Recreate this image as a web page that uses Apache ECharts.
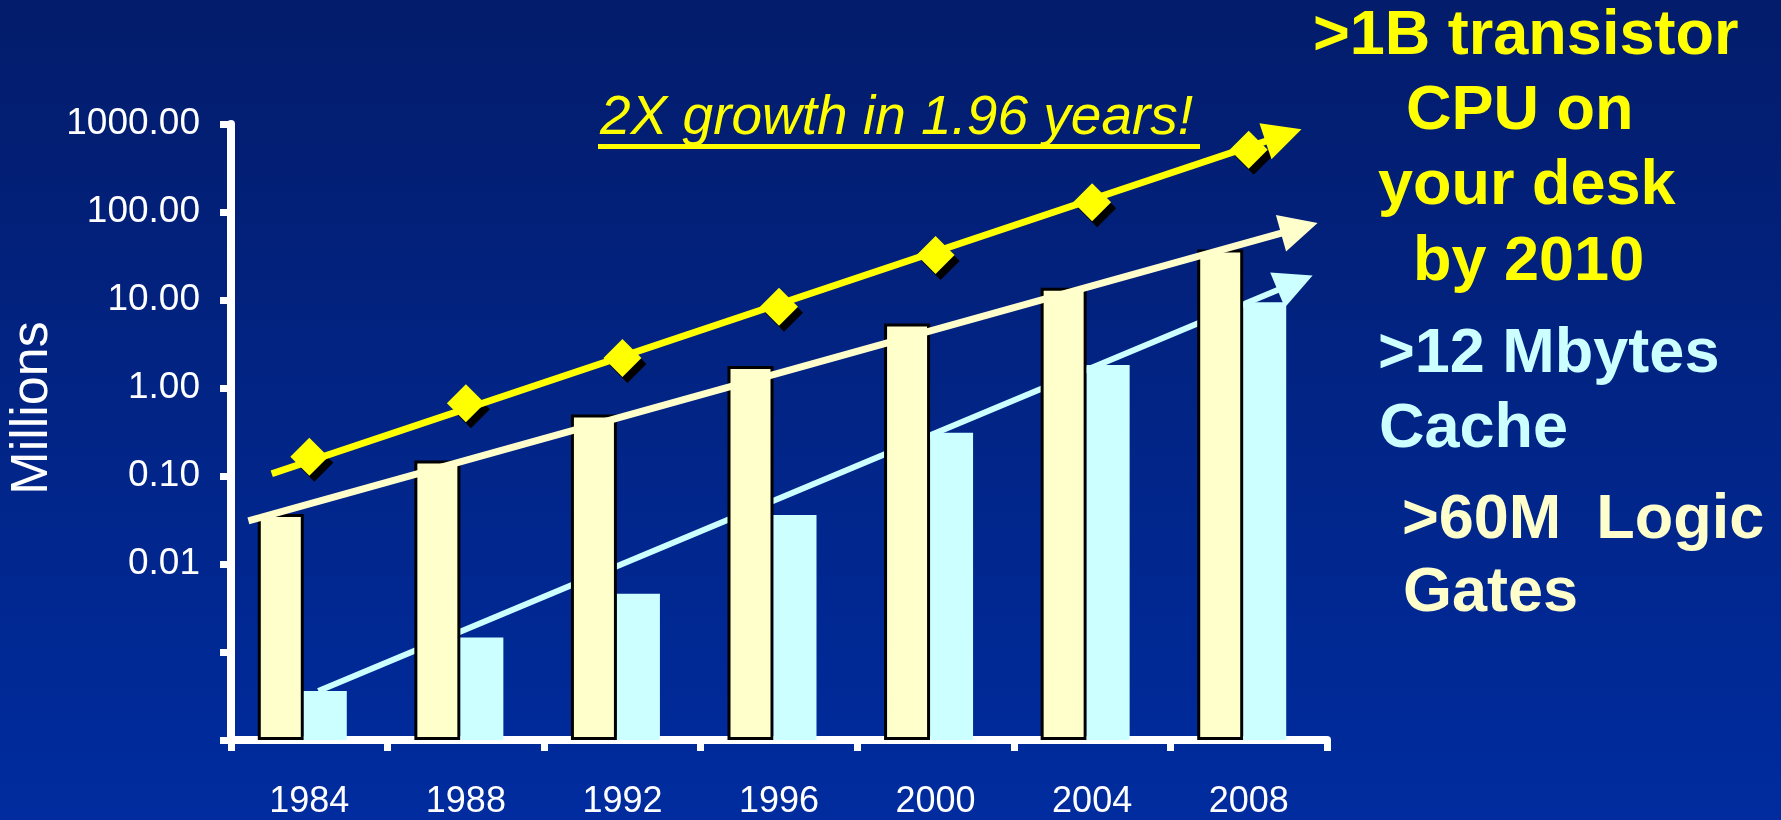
<!DOCTYPE html>
<html>
<head>
<meta charset="utf-8">
<script src="https://cdn.jsdelivr.net/npm/echarts@6/dist/echarts.min.js"></script>
<style>
  html, body { margin: 0; padding: 0; background: #02228a; }
  #chart { width: 1781px; height: 820px; }
</style>
</head>
<body>
<div id="chart"></div>
<script>
// Years on the category axis
const years = ['1984', '1988', '1992', '1996', '2000', '2004', '2008'];

// Millions, per year
const logicGates  = [0.037, 0.15, 0.50, 1.78, 5.4, 13.8, 37.6];          // cream bars
const cacheBytes  = [0.00036, 0.00146, 0.0046, 0.036, 0.31, 1.83, 9.45]; // cyan bars
const transistors = [0.165, 0.67, 2.19, 8.4, 32.4, 129, 510];            // yellow diamonds

// Exponential trend arrows: [category position, millions] for start and end
const transistorTrend = [[-0.24, 0.106], [6.222, 745]];
const gateTrend       = [[-0.389, 0.031], [6.323, 65.6]];
const cacheTrend      = [[0.058, 0.000361], [6.296, 15.7]];

// Y axis range (decades)
const yMin = 0.0001;
const yMax = 1000;

// Annotation text
const headline = '2X growth in 1.96 years!';
const cpuLines = ['>1B transistor', 'CPU on', 'your desk', 'by 2010'];
const cacheLines = ['>12 Mbytes', 'Cache'];
const gateLines = ['>60M  Logic', 'Gates'];
const unitLabel = 'Millions';

const FONT = '"Liberation Sans", Arial, Helvetica, sans-serif';
const YELLOW = '#FFFF00';
const CREAM = '#FFFFCC';
const CYAN = '#CCFFFF';

const chart = echarts.init(document.getElementById('chart'), null, { renderer: 'canvas' });

function boldText(text, x, y, color) {
  return {
    type: 'text', x: x, y: y, z: 100,
    style: {
      text: text, fill: color, font: 'bold 63px ' + FONT,
      align: 'left', verticalAlign: 'middle'
    }
  };
}

const graphics = [];
// Rotated unit label
graphics.push({
  type: 'text', x: 33, y: 408, rotation: Math.PI / 2, z: 100,
  style: { text: unitLabel, fill: '#FFFFFF', font: '52px ' + FONT, align: 'center', verticalAlign: 'middle' }
});
// Italic headline with underline
graphics.push({
  type: 'text', x: 600, y: 119, z: 100,
  style: { text: headline, fill: YELLOW, font: 'italic 55px ' + FONT, align: 'left', verticalAlign: 'middle' }
});
graphics.push({
  type: 'rect', z: 100,
  shape: { x: 598, y: 144, width: 602, height: 5 },
  style: { fill: YELLOW }
});
// Right-hand callouts
const cpuPos = [[1313, 37], [1406, 112], [1378, 187], [1413, 263]];
cpuLines.forEach((t, i) => graphics.push(boldText(t, cpuPos[i][0], cpuPos[i][1], YELLOW)));
const cachePos = [[1378, 355], [1379, 430]];
cacheLines.forEach((t, i) => graphics.push(boldText(t, cachePos[i][0], cachePos[i][1], CYAN)));
const gatePos = [[1402, 521], [1403, 594]];
gateLines.forEach((t, i) => graphics.push(boldText(t, gatePos[i][0], gatePos[i][1], CREAM)));

function trendSeries(name, pts, color, width, z) {
  return {
    name: name,
    type: 'lines',
    coordinateSystem: 'cartesian2d',
    xAxisIndex: 1,
    yAxisIndex: 0,
    z: z,
    silent: true,
    symbol: ['none', 'triangle'],
    symbolSize: 38,
    lineStyle: { color: color, width: width, opacity: 1, type: 'solid' },
    data: [{ coords: pts }]
  };
}

const option = {
  animation: false,
  backgroundColor: {
    type: 'linear', x: 0, y: 0, x2: 0, y2: 1,
    colorStops: [
      { offset: 0, color: '#031C6B' },
      { offset: 1, color: '#002C9F' }
    ]
  },
  textStyle: { fontFamily: FONT },
  grid: { left: 231, top: 124, width: 1096, height: 624, containLabel: false },
  xAxis: [
    {
      type: 'category',
      data: years,
      boundaryGap: true,
      axisLine: { show: true, onZero: false, lineStyle: { color: '#FFFFFF', width: 8 } },
      axisTick: { show: true, length: 11, lineStyle: { color: '#FFFFFF', width: 7 } },
      axisLabel: { color: '#FFFFFF', fontSize: 36, fontFamily: FONT, margin: 44 },
      splitLine: { show: false }
    },
    {
      type: 'value',
      min: -0.5,
      max: 6.5,
      show: false,
      axisLine: { onZero: false }
    }
  ],
  yAxis: {
    type: 'log',
    logBase: 10,
    min: yMin,
    max: yMax,
    startValue: yMin,
    interval: 1,
    splitNumber: 7,
    axisLine: { show: true, onZero: false, lineStyle: { color: '#FFFFFF', width: 8 } },
    axisTick: { show: true, length: 11, lineStyle: { color: '#FFFFFF', width: 7 } },
    axisLabel: {
      color: '#FFFFFF', fontSize: 37, fontFamily: FONT, margin: 31,
      formatter: function (v) {
        const e = Math.round(Math.log10(v));
        return e >= -2 ? Math.pow(10, e).toFixed(2) : '';
      }
    },
    splitLine: { show: false }
  },
  graphic: graphics,
  series: [
    trendSeries('cacheTrend', cacheTrend, CYAN, 6, 1),
    {
      name: 'Logic gates',
      type: 'bar',
      z: 2,
      data: logicGates,
      barWidth: 46,
      barGap: '0%',
      itemStyle: { color: CREAM, borderColor: '#000000', borderWidth: 3 }
    },
    {
      name: 'Cache',
      type: 'bar',
      z: 2,
      data: cacheBytes,
      barWidth: 43,
      barGap: '0%',
      itemStyle: { color: CYAN, borderWidth: 0 }
    },
    {
      // empty slot to the right of each bar pair
      name: 'gap',
      type: 'bar',
      z: 2,
      silent: true,
      data: [],
      barWidth: 14,
      barGap: '0%'
    },
    trendSeries('gateTrend', gateTrend, CREAM, 7, 3),
    {
      name: 'transistorShadow',
      type: 'scatter',
      z: 4,
      silent: true,
      data: transistors,
      symbol: 'diamond',
      symbolSize: 38,
      symbolOffset: [5, 6],
      itemStyle: { color: '#000000', opacity: 1 }
    },
    trendSeries('transistorTrend', transistorTrend, YELLOW, 7, 5),
    {
      name: 'Transistors',
      type: 'scatter',
      z: 6,
      data: transistors,
      symbol: 'diamond',
      symbolSize: 38,
      itemStyle: { color: YELLOW, opacity: 1 }
    }
  ]
};

chart.setOption(option);
</script>
</body>
</html>
